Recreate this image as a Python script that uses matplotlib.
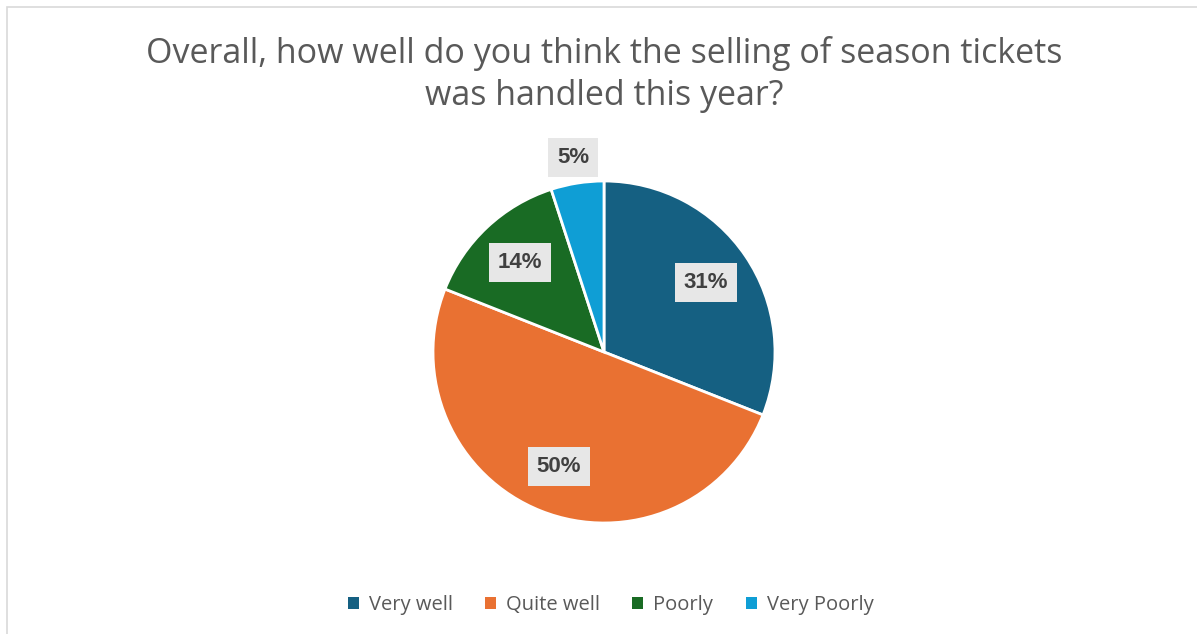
import matplotlib.pyplot as plt
from matplotlib.patches import Rectangle

categories = ['Very well', 'Quite well', 'Poorly', 'Very Poorly']
shares = [31, 50, 14, 5]
colors = ['#156082', '#E97132', '#196B24', '#0F9ED5']

plt.rcParams['font.family'] = ['Open Sans', 'DejaVu Sans']

fig = plt.figure(figsize=(11.97, 6.34), dpi=100)
ax = fig.add_axes([0, 0, 1, 1])

# chart area border
fig.patches.append(Rectangle((7 / 1197, -0.1), 1.2, (634 - 7) / 634 + 0.1,
                             transform=fig.transFigure, fill=False,
                             edgecolor='#D9D9D9', linewidth=1.2))

cx, cy = 604, 634 - 352
wedges, texts, autotexts = ax.pie(
    shares, colors=colors, startangle=90, counterclock=False,
    center=(cx, cy), radius=171, frame=True,
    autopct='%d%%', pctdistance=0.72,
    wedgeprops=dict(edgecolor='white', linewidth=2),
    textprops=dict(fontsize=16, fontweight='bold', color='#404040',
                   family='Liberation Sans'))
ax.set_xlim(0, 1197)
ax.set_ylim(0, 634)
ax.set_aspect('equal')
ax.axis('off')

for t in autotexts:
    t.set_bbox(dict(boxstyle='square,pad=0.4', facecolor='#E7E7E7', edgecolor='none'))
# smallest slice gets its label outside the pie
x, y = autotexts[-1].get_position()
autotexts[-1].set_position((cx + (x - cx) * 1.6, cy + (y - cy) * 1.6))

fig.text(0.5046, 0.882, 'Overall, how well do you think the selling of season tickets\nwas handled this year?',
         ha='center', va='center', fontsize=24.5, color='#595959', linespacing=1.32)

leg = ax.legend(wedges, categories, loc='center', bbox_to_anchor=(0.51, 0.045),
                bbox_transform=fig.transFigure, ncol=4, frameon=False,
                fontsize=14.5, handlelength=0.55, handleheight=0.55, handletextpad=0.5,
                columnspacing=1.6, labelcolor='#595959')
for h in leg.legend_handles:
    h.set_edgecolor('none')

fig.savefig('out.png', dpi=100)
